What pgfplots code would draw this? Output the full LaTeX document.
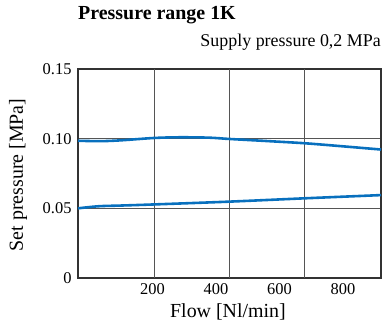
\documentclass[border=0pt]{standalone}
\usepackage{fontspec}
\setmainfont{Liberation Serif}
\usepackage{pgfplots}
\pgfplotsset{compat=1.18}
\definecolor{curve}{RGB}{8,112,190}
\definecolor{gridc}{RGB}{85,85,85}
\definecolor{framec}{RGB}{50,50,50}
\begin{document}
\begin{tikzpicture}
\path[use as bounding box] (-78bp,-51bp) rectangle (305bp,278bp);
\begin{axis}[
  at={(0,0)}, anchor=south west,
  scale only axis, width=303bp, height=209bp,
  xmin=-35, xmax=920, ymin=0, ymax=0.15,
  axis line style={framec, line width=1.1pt},
  xtick={200,400,600,800},
  xticklabels={200,400,600,800},
  extra x ticks={205,441,680},
  extra x tick labels={,,},
  extra x tick style={grid=major},
  ytick={0,0.05,0.1,0.15},
  yticklabels={0,0.05,0.10,0.15},
  ymajorgrids=true,
  grid style={gridc, line width=0.9pt},
  major tick length=0pt,
  /pgf/number format/assume math mode=true,
  tick label style={font=\fontsize{16.5}{18}\selectfont},
  xticklabel style={yshift=-2bp},
  yticklabel style={xshift=-3bp},
  xlabel={Flow [Nl/min]},
  ylabel={Set pressure [MPa]},
  label style={font=\fontsize{20}{23}\selectfont},
  xlabel style={at={(axis description cs:0.495,0)}, anchor=center, yshift=-34bp},
  ylabel style={at={(axis description cs:-0.198,0.493)}, anchor=center},
  clip=false,
]
\addplot[curve, line width=2.6pt, smooth] coordinates {
  (-35,0.0985) (35,0.0982) (100,0.0988) (205,0.1005) (290,0.1010)
  (380,0.1007) (441,0.0998) (560,0.0983) (680,0.0967) (800,0.0945) (920,0.0922)
};
\addplot[curve, line width=2.6pt, smooth] coordinates {
  (-35,0.0500) (30,0.0515) (100,0.0520) (205,0.0528) (441,0.0548)
  (680,0.0572) (920,0.0595)
};
\end{axis}
\node[anchor=west, inner sep=0pt, font=\bfseries\fontsize{20}{23}\selectfont] at (0bp,263bp) {Pressure range 1K};
\node[anchor=east, inner sep=0pt, font=\fontsize{18}{21}\selectfont] at (303bp,236bp) {Supply pressure 0,2 MPa};
\end{tikzpicture}
\end{document}
